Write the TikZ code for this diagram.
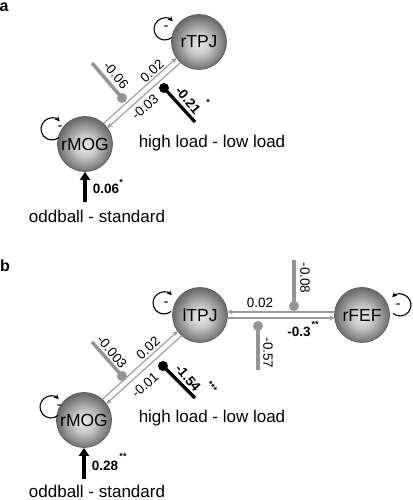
\documentclass[tikz,border=0pt]{standalone}
\usepackage{fontspec}
\setmainfont{Liberation Sans}
\usetikzlibrary{calc,arrows.meta}
\pgfdeclareradialshading{myball}{\pgfpoint{0bp}{-2bp}}{color(0bp)=(black!8); color(10bp)=(black!22); color(25bp)=(black!58); color(50bp)=(black!58)}
\begin{document}
\begin{tikzpicture}[x=1pt,y=1pt,
 roi/.style={circle,minimum size=55pt,inner sep=0pt,draw=black!65,line width=0.7pt,shading=myball,font=\fontsize{17.5}{18}\selectfont},
 conn/.style={draw=black!40,line width=1.1pt,-{Stealth[length=5pt,width=5pt]},shorten <=27.5pt,shorten >=27.5pt},
 num/.style={font=\fontsize{13.5}{14}\selectfont,inner sep=0pt},
 bnum/.style={font=\fontsize{13.5}{14}\selectfont\bfseries,inner sep=0pt},
 star/.style={font=\fontsize{9}{9}\selectfont\bfseries,inner sep=0pt},
 cond/.style={font=\fontsize{17}{18}\selectfont,inner sep=0pt},
 panel/.style={font=\fontsize{16}{16}\selectfont\bfseries,inner sep=0pt},
 modg/.style={draw=black!42,line width=3.5pt},
 modk/.style={draw=black,line width=3.2pt},
 dotg/.style={circle,fill=black!42,minimum size=10pt,inner sep=0pt},
 dotk/.style={circle,fill=black,minimum size=10pt,inner sep=0pt},
 loopst/.style={draw=black,line width=1.1pt,-{Stealth[length=5pt,width=5pt]}},
 inarrow/.style={draw=black,line width=3.5pt,-{Triangle[length=8pt,width=10pt]}},
 minus/.style={font=\fontsize{15}{15}\selectfont,inner sep=0pt}
]
\useasboundingbox (0,0) rectangle (412,500);

% ---------------- panel a ----------------
\node[panel] (pa) at (4,493) {a};
\node[roi] (rTPJ) at (199,458) {rTPJ};
\node[roi] (rMOGa) at (85,356) {rMOG};

\draw[conn] ($(rMOGa)!3pt!90:(rTPJ)$) -- ($(rTPJ)!3pt!-90:(rMOGa)$);
\draw[conn] ($(rTPJ)!3pt!90:(rMOGa)$) -- ($(rMOGa)!3pt!-90:(rTPJ)$);
\node[num,rotate=42] (la1) at (152,429) {0.02};
\node[num,rotate=42] (la2) at (145,393) {-0.03};

\draw[loopst] ($(rTPJ)+(-34,13)$) ++(310:11pt) arc[start angle=310,end angle=45,radius=11pt];
\draw[loopst] ($(rMOGa)+(-33,15)$) ++(310:11pt) arc[start angle=310,end angle=45,radius=11pt];
\node[minus] (ma1) at (166,472) {-};
\node[minus] (ma2) at (60,372) {-};

\coordinate (ga1) at (92,437);
\node[dotg] (gda1) at (122,402) {};
\draw[modg] (ga1) -- (gda1.center);
\node[num,rotate=-50] (lga1) at (116,425) {-0.06};

\coordinate (ka1) at (195,378);
\node[dotk] (kda1) at (164,412) {};
\draw[modk] (ka1) -- (kda1.center);
\node[bnum,rotate=-50] (lka1) at (188,400) {-0.21};
\node[star] (ska1) at (208,398) {*};
\node[cond] (hla) at (212,357) {high load - low load};

\coordinate (ina) at (85,298);
\draw[inarrow] (ina) -- (rMOGa.south);
\node[bnum] (lina) at (106,311) {0.06};
\node[star] (sina) at (121,318) {*};
\node[cond] (oda) at (97,284) {oddball - standard};

% ---------------- panel b ----------------
\node[panel] (pb) at (5,234) {b};
\node[roi] (lTPJ) at (200,185) {lTPJ};
\node[roi] (rFEF) at (362,185) {rFEF};
\node[roi] (rMOGb) at (84,80) {rMOG};

\draw[conn] ($(rMOGb)!3pt!90:(lTPJ)$) -- ($(lTPJ)!3pt!-90:(rMOGb)$);
\draw[conn] ($(lTPJ)!3pt!90:(rMOGb)$) -- ($(rMOGb)!3pt!-90:(lTPJ)$);
\draw[conn] ($(rFEF)!3pt!-90:(lTPJ)$) -- ($(lTPJ)!3pt!90:(rFEF)$);
\draw[conn] ($(lTPJ)!3pt!-90:(rFEF)$) -- ($(rFEF)!3pt!90:(lTPJ)$);
\node[num,rotate=42] (lb1) at (148,152) {0.02};
\node[num,rotate=42] (lb2) at (145,115) {-0.01};
\node[num] (lb3) at (260,197) {0.02};
\node[bnum] (lb4) at (299,168) {-0.3};
\node[star] (sb4) at (315,176) {**};

\draw[loopst] ($(lTPJ)+(-36,12)$) ++(310:11pt) arc[start angle=310,end angle=45,radius=11pt];
\draw[loopst] ($(rMOGb)+(-33,13)$) ++(310:11pt) arc[start angle=310,end angle=45,radius=11pt];
\draw[loopst] ($(rFEF)+(38,10)$) ++(230:11pt) arc[start angle=230,end angle=495,radius=11pt];
\node[minus] (mb1) at (166,196) {-};
\node[minus] (mb2) at (59,93) {-};
\node[minus] (mb3) at (398,194) {-};

\coordinate (gb1) at (92,158);
\node[dotg] (gdb1) at (122,124) {};
\draw[modg] (gb1) -- (gdb1.center);
\node[num,rotate=-50] (lgb1) at (112,148) {-0.003};

\coordinate (kb1) at (195,102);
\node[dotk] (kdb1) at (163,134) {};
\draw[modk] (kb1) -- (kdb1.center);
\node[bnum,rotate=-50] (lkb1) at (188,122) {-1.54};
\node[star,rotate=-50] (skb1) at (212,113) {***};

\coordinate (gb2) at (294,240);
\node[dotg] (gdb2) at (294,194) {};
\draw[modg] (gb2) -- (gdb2.center);
\node[num,rotate=-90] (lgb2) at (305,222) {-0.08};

\coordinate (gb3) at (258,130);
\node[dotg] (gdb3) at (258,174) {};
\draw[modg] (gb3) -- (gdb3.center);
\node[num,rotate=-90] (lgb3) at (268,147) {-0.57};

\node[cond] (hlb) at (212,82) {high load - low load};

\coordinate (inb) at (84,21);
\draw[inarrow] (inb) -- (rMOGb.south);
\node[bnum] (linb) at (105,34) {0.28};
\node[star] (sinb) at (123,44) {**};
\node[cond] (odb) at (97,9) {oddball - standard};
\end{tikzpicture}
\end{document}
